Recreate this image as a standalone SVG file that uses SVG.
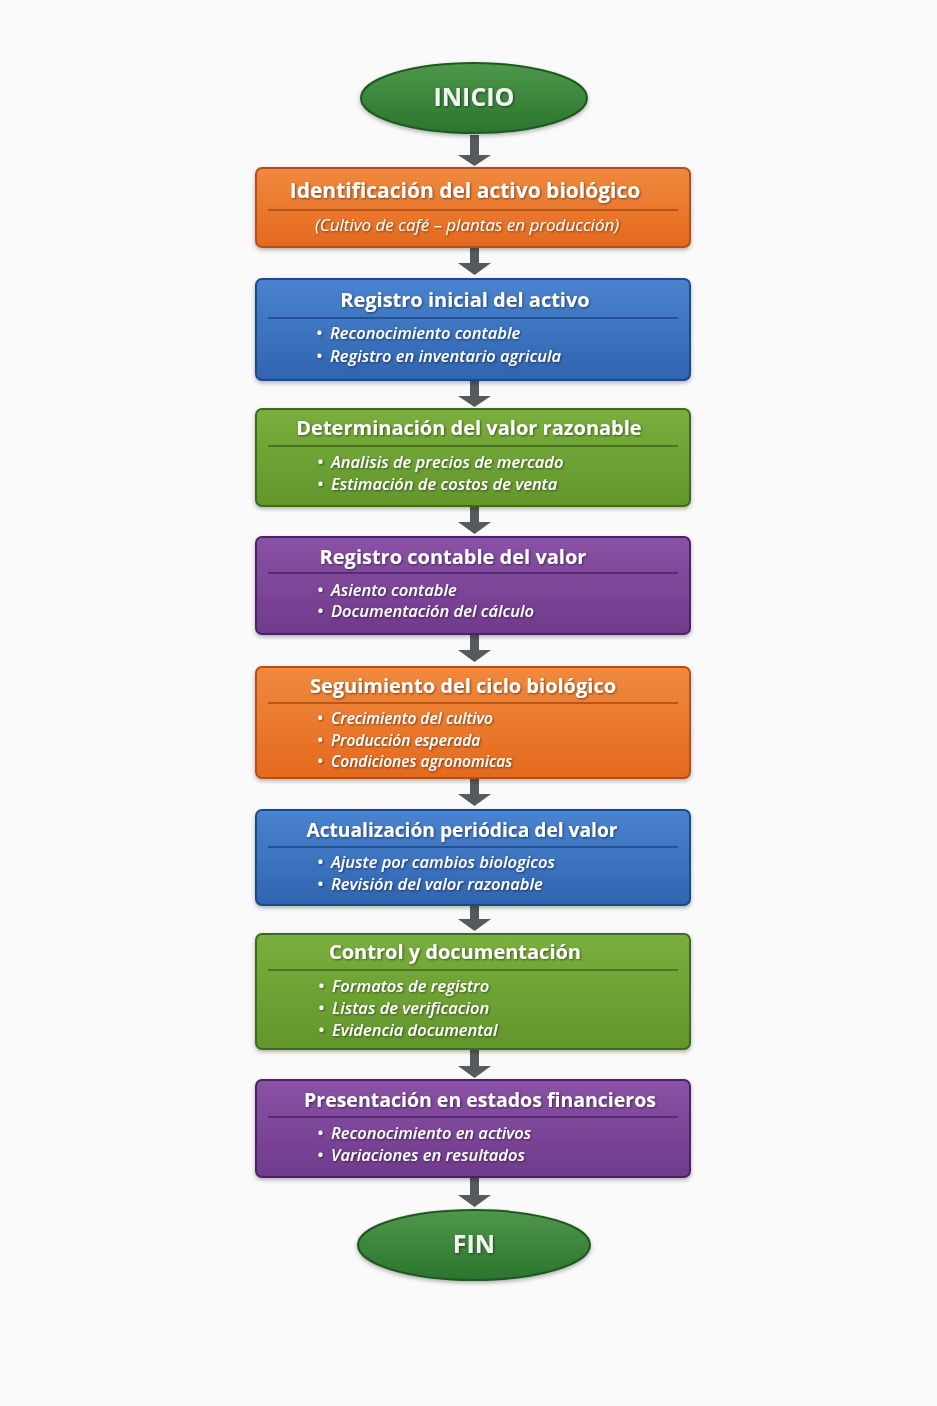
<svg xmlns="http://www.w3.org/2000/svg" width="937" height="1406" viewBox="0 0 937 1406">
<defs>
<linearGradient id="gO" x1="0" y1="0" x2="0" y2="1"><stop offset="0" stop-color="#F08A3E"/><stop offset="1" stop-color="#E4691E"/></linearGradient>
<linearGradient id="gB" x1="0" y1="0" x2="0" y2="1"><stop offset="0" stop-color="#4A83CF"/><stop offset="1" stop-color="#2F64B0"/></linearGradient>
<linearGradient id="gG" x1="0" y1="0" x2="0" y2="1"><stop offset="0" stop-color="#7AAE3C"/><stop offset="1" stop-color="#62962C"/></linearGradient>
<linearGradient id="gP" x1="0" y1="0" x2="0" y2="1"><stop offset="0" stop-color="#8A52A6"/><stop offset="1" stop-color="#703A8C"/></linearGradient>
<linearGradient id="gE" x1="0" y1="0" x2="0" y2="1"><stop offset="0" stop-color="#4F984A"/><stop offset="1" stop-color="#2C742E"/></linearGradient>
<filter id="sh" x="-10%" y="-10%" width="120%" height="130%"><feDropShadow dx="0" dy="2" stdDeviation="2" flood-color="#000" flood-opacity="0.3"/></filter>
<filter id="ts" x="-5%" y="-20%" width="110%" height="150%"><feDropShadow dx="1" dy="1" stdDeviation="0.8" flood-color="#000" flood-opacity="0.5"/></filter>
</defs>
<style>
.t{font-family:"Open Sans","Noto Sans",sans-serif;font-weight:700;font-size:20px;fill:#fff;text-anchor:middle;filter:url(#ts)}
.e{font-family:"Open Sans","Noto Sans",sans-serif;font-weight:700;font-size:25px;fill:#F2F4F2;text-anchor:middle;filter:url(#ts)}
.b{font-family:"Open Sans","Noto Sans",sans-serif;font-style:italic;font-weight:600;font-size:16.5px;fill:#fff;filter:url(#ts)}
.b5{font-size:15.5px}
.s{font-family:"Open Sans","Noto Sans",sans-serif;font-style:italic;font-size:17px;fill:#fff;text-anchor:middle;filter:url(#ts)}
.o{fill:url(#gO);stroke:#B4501A;stroke-width:2}
.bl{fill:url(#gB);stroke:#1E4A8A;stroke-width:2}
.gr{fill:url(#gG);stroke:#3F6A1C;stroke-width:2}
.pu{fill:url(#gP);stroke:#4C2466;stroke-width:2}
.el{fill:url(#gE);stroke:#1F5A22;stroke-width:2}
.ln{stroke-width:1.5}
.arr{fill:#555a5c}
</style>
<rect width="937" height="1406" fill="#FAFAFB"/>

<g id="connectors">
<path class="arr" d="M470 135h9v20h12l-16.5 11-16.5-11h12z"/>
<path class="arr" d="M470 248h9v15h12l-16.5 12-16.5-12h12z"/>
<path class="arr" d="M470 381h9v15h12l-16.5 11-16.5-11h12z"/>
<path class="arr" d="M470 507h9v15h12l-16.5 12-16.5-12h12z"/>
<path class="arr" d="M470 635h9v15h12l-16.5 12-16.5-12h12z"/>
<path class="arr" d="M470 779h9v15h12l-16.5 12-16.5-12h12z"/>
<path class="arr" d="M470 906h9v13h12l-16.5 12-16.5-12h12z"/>
<path class="arr" d="M470 1050h9v16h12l-16.5 12-16.5-12h12z"/>
<path class="arr" d="M470 1178h9v17h12l-16.5 12-16.5-12h12z"/>
</g>

<g id="inicio" filter="url(#sh)">
<ellipse class="el" cx="474" cy="98" rx="113" ry="35"/>
<text class="e" x="474" y="106">INICIO</text>
</g>

<g id="n1">
<rect class="o" x="256" y="168" width="434" height="79" rx="6" filter="url(#sh)"/>
<line class="ln" x1="268" y1="210" x2="678" y2="210" stroke="#A9491A"/>
<text class="t" x="465" y="198" style="font-size:21px">Identificación del activo biológico</text>
<text class="s" x="467" y="231">(Cultivo de café – plantas en producción)</text>
</g>

<g id="n2">
<rect class="bl" x="256" y="279" width="434" height="101" rx="6" filter="url(#sh)"/>
<line class="ln" x1="268" y1="318" x2="678" y2="318" stroke="#1C4680"/>
<text class="t" x="465" y="307">Registro inicial del activo</text>
<text class="b" y="339"><tspan x="316">•</tspan><tspan x="330">Reconocimiento contable</tspan></text>
<text class="b" y="362"><tspan x="316">•</tspan><tspan x="330">Registro en inventario agricula</tspan></text>
</g>

<g id="n3">
<rect class="gr" x="256" y="409" width="434" height="97" rx="6" filter="url(#sh)"/>
<line class="ln" x1="268" y1="446" x2="678" y2="446" stroke="#3C661A"/>
<text class="t" x="469" y="435">Determinación del valor razonable</text>
<text class="b" y="468"><tspan x="317">•</tspan><tspan x="331">Analisis de precios de mercado</tspan></text>
<text class="b" y="490"><tspan x="317">•</tspan><tspan x="331">Estimación de costos de venta</tspan></text>
</g>

<g id="n4">
<rect class="pu" x="256" y="537" width="434" height="97" rx="6" filter="url(#sh)"/>
<line class="ln" x1="268" y1="573" x2="678" y2="573" stroke="#4A2262"/>
<text class="t" x="453" y="564">Registro contable del valor</text>
<text class="b" y="596"><tspan x="317">•</tspan><tspan x="331">Asiento contable</tspan></text>
<text class="b" y="617"><tspan x="317">•</tspan><tspan x="331">Documentación del cálculo</tspan></text>
</g>

<g id="n5">
<rect class="o" x="256" y="667" width="434" height="111" rx="6" filter="url(#sh)"/>
<line class="ln" x1="268" y1="703" x2="678" y2="703" stroke="#A9491A"/>
<text class="t" x="463" y="693">Seguimiento del ciclo biológico</text>
<text class="b b5" y="724"><tspan x="317">•</tspan><tspan x="331">Crecimiento del cultivo</tspan></text>
<text class="b b5" y="745.5"><tspan x="317">•</tspan><tspan x="331">Producción esperada</tspan></text>
<text class="b b5" y="767"><tspan x="317">•</tspan><tspan x="331">Condiciones agronomicas</tspan></text>
</g>

<g id="n6">
<rect class="bl" x="256" y="810" width="434" height="95" rx="6" filter="url(#sh)"/>
<line class="ln" x1="268" y1="847" x2="678" y2="847" stroke="#1C4680"/>
<text class="t" x="462" y="837" style="font-size:19.2px">Actualización periódica del valor</text>
<text class="b" y="868"><tspan x="317">•</tspan><tspan x="331">Ajuste por cambios biologicos</tspan></text>
<text class="b" y="890"><tspan x="317">•</tspan><tspan x="331">Revisión del valor razonable</tspan></text>
</g>

<g id="n7">
<rect class="gr" x="256" y="934" width="434" height="115" rx="6" filter="url(#sh)"/>
<line class="ln" x1="268" y1="970" x2="678" y2="970" stroke="#3C661A"/>
<text class="t" x="455" y="959">Control y documentación</text>
<text class="b" y="992"><tspan x="318">•</tspan><tspan x="332">Formatos de registro</tspan></text>
<text class="b" y="1013.5"><tspan x="318">•</tspan><tspan x="332">Listas de verificacion</tspan></text>
<text class="b" y="1035.5"><tspan x="318">•</tspan><tspan x="332">Evidencia documental</tspan></text>
</g>

<g id="n8">
<rect class="pu" x="256" y="1080" width="434" height="97" rx="6" filter="url(#sh)"/>
<line class="ln" x1="268" y1="1117" x2="678" y2="1117" stroke="#4A2262"/>
<text class="t" x="480" y="1107" style="font-size:19.5px">Presentación en estados financieros</text>
<text class="b" y="1139"><tspan x="317">•</tspan><tspan x="331">Reconocimiento en activos</tspan></text>
<text class="b" y="1161"><tspan x="317">•</tspan><tspan x="331">Variaciones en resultados</tspan></text>
</g>

<g id="fin" filter="url(#sh)">
<ellipse class="el" cx="474" cy="1245" rx="116" ry="35"/>
<text class="e" x="474" y="1253">FIN</text>
</g>
</svg>
